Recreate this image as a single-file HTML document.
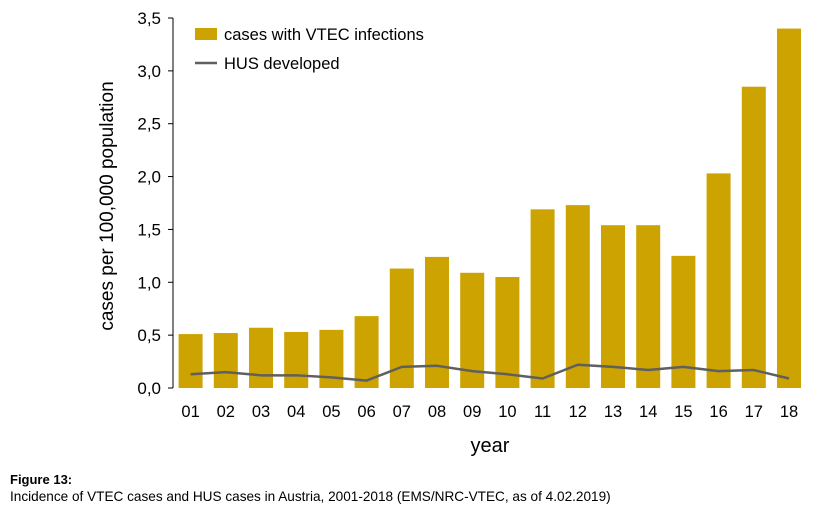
<!DOCTYPE html>
<html><head><meta charset="utf-8"><style>
body{margin:0;background:#fff;width:821px;height:516px;overflow:hidden;font-family:"Liberation Sans",sans-serif}
svg{display:block}
</style></head><body>
<svg id="chart" width="821" height="516" font-family="Liberation Sans, sans-serif">
<text transform="translate(113,206) rotate(-90)" text-anchor="middle" font-size="19" fill="#000"><tspan x="0">cases per 100,000 population</tspan></text>
<text x="490" y="452" text-anchor="middle" font-size="20" fill="#000">year</text>
<text x="10" y="484" font-size="13" font-weight="bold" fill="#000">Figure 13:</text>
<text x="10" y="501" font-size="13.6" fill="#000">Incidence of VTEC cases and HUS cases in Austria, 2001-2018 (EMS/NRC-VTEC, as of 4.02.2019)</text>
<g>
<rect x="195" y="28" width="22" height="12" fill="#cca300"/>
<text x="224" y="40" font-size="16.5" fill="#000">cases with VTEC infections</text>
<line x1="195" y1="63" x2="217" y2="63" stroke="#5f5f5f" stroke-width="2.5"/>
<text x="224" y="69" font-size="16.5" fill="#000">HUS developed</text>
</g>
</svg>
<script>
const categories=["01","02","03","04","05","06","07","08","09","10","11","12","13","14","15","16","17","18"];
const vtecValues=[0.51,0.52,0.57,0.53,0.55,0.68,1.13,1.24,1.09,1.05,1.69,1.73,1.54,1.54,1.25,2.03,2.85,3.40];
const husValues=[0.13,0.15,0.12,0.12,0.10,0.07,0.20,0.21,0.16,0.13,0.09,0.22,0.20,0.17,0.20,0.16,0.17,0.09];
const yTicks=[0,0.5,1,1.5,2,2.5,3,3.5];
const yTickLabels=["0,0","0,5","1,0","1,5","2,0","2,5","3,0","3,5"];
const NS="http://www.w3.org/2000/svg";
const svg=document.getElementById('chart');
const x0=173,slot=35.2,y0=388,yTop=18,yMax=3.5;
function yScale(v){return y0-(v/yMax)*(y0-yTop);}
function xCenter(i){return x0+slot*(i+0.5);}
function mk(tag,attrs){const e=document.createElementNS(NS,tag);for(const k in attrs)e.setAttribute(k,attrs[k]);svg.appendChild(e);return e;}
const axis=mk('line',{x1:x0,y1:yTop,x2:x0,y2:y0,stroke:'#000','stroke-width':1});


yTicks.forEach((t,i)=>{
  const y=yScale(t);
  const tk=mk('line',{x1:x0-5,y1:y,x2:x0,y2:y,stroke:'#000','stroke-width':1});
  
  
  const lb=mk('text',{x:x0-12,y:y+6,'text-anchor':'end','font-size':17,fill:'#000'});
  lb.textContent=yTickLabels[i];
  
  
});
const bw=24;
vtecValues.forEach((v,i)=>{
  const r=mk('rect',{x:xCenter(i)-bw/2,y:yScale(v),width:bw,height:y0-yScale(v),fill:'#cca300'});
  
  
});
categories.forEach((c,i)=>{
  const t=mk('text',{x:xCenter(i),y:417,'text-anchor':'middle','font-size':16.5,fill:'#000'});
  t.textContent=c;
  
  
});
const pts=husValues.map((v,i)=>xCenter(i)+','+yScale(v)).join(' ');
const pl=mk('polyline',{points:pts,fill:'none',stroke:'#5f5f5f','stroke-width':2.5,'stroke-linejoin':'round'});


</script>
</body></html>
